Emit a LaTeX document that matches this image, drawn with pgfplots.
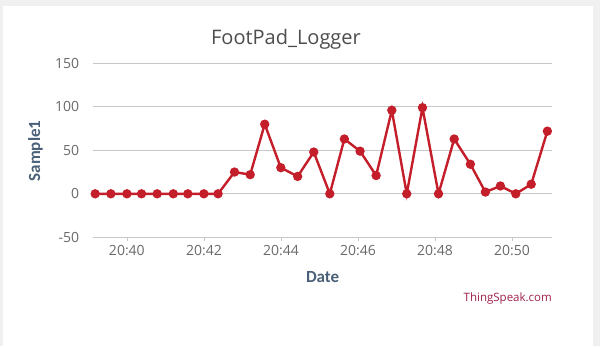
\documentclass[border=0pt]{standalone}
\usepackage{pgfplots}
\pgfplotsset{compat=1.18}
\usepackage{fontspec}
\setmainfont{Open Sans}
\newfontfamily\labfont{Carlito}
\definecolor{linered}{HTML}{C41E2A}
\definecolor{gridgray}{HTML}{C8C8C8}
\definecolor{ticktext}{HTML}{6A6A6A}
\definecolor{titlecol}{HTML}{4D4D4D}
\definecolor{labcol}{HTML}{4A6078}
\definecolor{tscol}{HTML}{A0204A}
\definecolor{bggray}{HTML}{F0F0F0}
\begin{document}
\begin{tikzpicture}[x=1pt,y=1pt]
\path[use as bounding box] (0,0) rectangle (600,346);
\fill[bggray] (0,0) rectangle (600,346);
\fill[white] (3,0) rectangle (593,340);
\begin{axis}[
  at={(92.6pt,108.7pt)}, anchor=south west,
  scale only axis, width=459.4pt, height=174pt,
  xmin=-0.89, xmax=11.04, ymin=-50, ymax=150,
  xtick={0,2,4,6,8,10},
  xticklabels={20:40,20:42,20:44,20:46,20:48,20:50},
  ytick={-50,0,50,100,150},
  axis x line*=bottom, axis y line*=left,
  x axis line style={draw=gridgray, line width=0.8pt, -},
  y axis line style={draw=none},
  ymajorgrids, grid style={gridgray, line width=0.8pt},
  tick align=outside,
  xtick style={draw=gridgray, line width=0.6pt},
  major tick length=4pt,
  ytick style={draw=none},
  /pgf/number format/assume math mode=true,
  ticklabel style={font=\fontsize{14}{16}\selectfont, text=ticktext},
  yticklabel style={xshift=-6pt},
  xticklabel style={yshift=-1pt},
  clip=false,
]
\addplot[linered, line width=2.4pt, mark=*, mark size=3.4pt, mark options={fill=linered, draw=linered}] coordinates {
(-0.823,0) (-0.416,0) (0.002,0) (0.38,0) (0.787,0) (1.205,0) (1.583,0) (2.0,0) (2.368,0)
(2.795,25) (3.203,22) (3.58,80) (3.998,30) (4.435,20) (4.853,48) (5.27,0) (5.648,63)
(6.056,49) (6.473,21) (6.88,96) (7.268,0) (7.676,99) (8.093,0) (8.5,63) (8.92,34)
(9.31,2) (9.7,9) (10.1,0) (10.5,11) (10.92,72)
};
\end{axis}
\node[text=titlecol, font=\fontsize{20}{24}\selectfont, anchor=base] at (286,301.5) {FootPad\_Logger};
\node[text=labcol, font=\labfont\bfseries\fontsize{17}{20}\selectfont] at (322.6,69.3) {Date};
\node[text=labcol, font=\labfont\bfseries\fontsize{17}{20}\selectfont, rotate=90] at (35.6,195) {Sample1};
\node[text=tscol, font=\fontsize{11.5}{14}\selectfont, anchor=east, inner sep=0pt] at (552,47.7) {ThingSpeak.com};
\end{tikzpicture}
\end{document}
